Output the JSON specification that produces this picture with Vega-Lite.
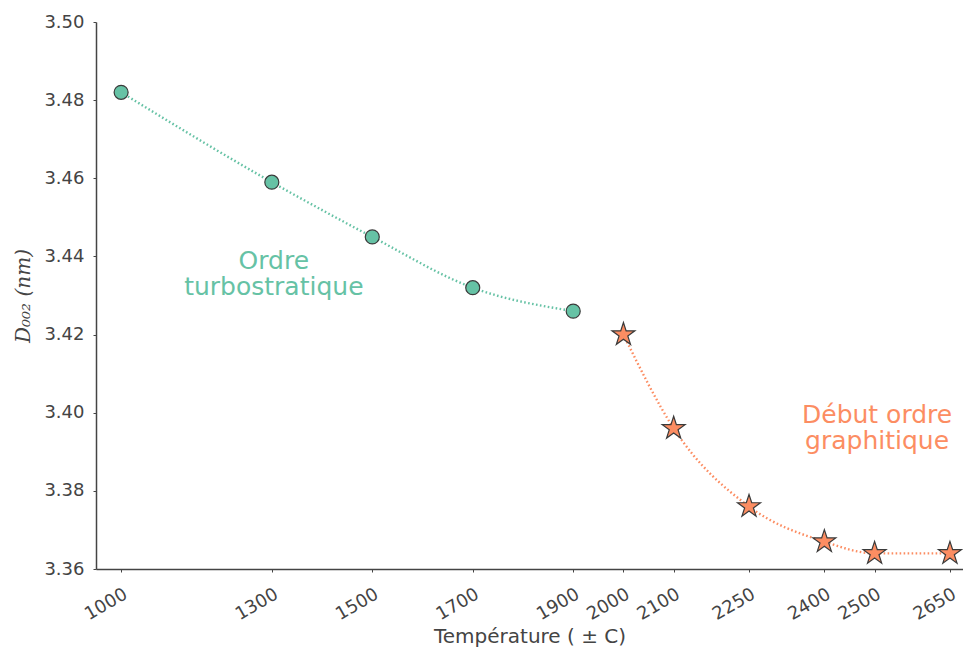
{
  "$schema": "https://vega.github.io/schema/vega-lite/v6.json",
  "width": 867,
  "height": 547,
  "autosize": {"type": "none"},
  "padding": {"left": 96, "top": 22, "right": 0, "bottom": 80},
  "background": "white",
  "config": {"view": {"stroke": null}, "font": "DejaVu Sans"},
  "data": {
    "values": [
      {"temp": 1000, "d": 3.482, "phase": "turbo"},
      {"temp": 1300, "d": 3.459, "phase": "turbo"},
      {"temp": 1500, "d": 3.445, "phase": "turbo"},
      {"temp": 1700, "d": 3.432, "phase": "turbo"},
      {"temp": 1900, "d": 3.426, "phase": "turbo"},
      {"temp": 2000, "d": 3.420, "phase": "graph"},
      {"temp": 2100, "d": 3.396, "phase": "graph"},
      {"temp": 2250, "d": 3.376, "phase": "graph"},
      {"temp": 2400, "d": 3.367, "phase": "graph"},
      {"temp": 2500, "d": 3.364, "phase": "graph"},
      {"temp": 2650, "d": 3.364, "phase": "graph"}
    ]
  },
  "layer": [
    {
      "mark": {"type": "line", "interpolate": "monotone", "strokeWidth": 2.4, "strokeDash": [1.6, 2.4]},
      "encoding": {
        "x": {
          "field": "temp", "type": "quantitative",
          "scale": {"domain": [950, 2676], "nice": false, "zero": false},
          "axis": {
            "values": [1000, 1300, 1500, 1700, 1900, 2000, 2100, 2250, 2400, 2500, 2650],
            "format": "d",
            "labelAngle": -30,
            "labelAlign": "right",
            "labelBaseline": "top",
            "labelFont": "DejaVu Sans",
            "labelFontSize": 18,
            "labelColor": "#444444",
            "labelPadding": 13,
            "labelOverlap": false,
            "grid": false,
            "domainColor": "#444444",
            "domainWidth": 1.5,
            "tickColor": "#444444",
            "tickSize": 3,
            "title": "Température ( ± C)",
            "titleFont": "DejaVu Sans",
            "titleFontSize": 20,
            "titleFontWeight": "normal",
            "titleColor": "#444444",
            "titlePadding": 3
          }
        },
        "y": {
          "field": "d", "type": "quantitative",
          "scale": {"domain": [3.36, 3.5], "nice": false, "zero": false},
          "axis": {
            "values": [3.36, 3.38, 3.40, 3.42, 3.44, 3.46, 3.48, 3.50],
            "format": ".2f",
            "labelFont": "DejaVu Sans",
            "labelFontSize": 18,
            "labelColor": "#444444",
            "labelPadding": 9,
            "grid": false,
            "domainColor": "#444444",
            "domainWidth": 1.5,
            "tickColor": "#444444",
            "tickSize": 3,
            "title": "D₀₀₂ (nm)",
            "titleFont": "DejaVu Serif",
            "titleFontStyle": "italic",
            "titleFontSize": 20,
            "titleFontWeight": "normal",
            "titleColor": "#444444",
            "titlePadding": 10
          }
        },
        "color": {"field": "phase", "type": "nominal", "scale": {"domain": ["turbo", "graph"], "range": ["#66c2a5", "#fc8d62"]}, "legend": null}
      }
    },
    {
      "transform": [{"filter": "datum.phase === 'turbo'"}],
      "mark": {"type": "point", "shape": "circle", "filled": true, "opacity": 1, "stroke": "#3a3a3a", "strokeWidth": 1.2, "size": 196},
      "encoding": {
        "x": {"field": "temp", "type": "quantitative"},
        "y": {"field": "d", "type": "quantitative"},
        "color": {"field": "phase", "type": "nominal", "legend": null}
      }
    },
    {
      "transform": [{"filter": "datum.phase === 'graph'"}],
      "mark": {"type": "point", "shape": "M0,-1L0.2245,-0.309L0.9511,-0.309L0.3633,0.118L0.5878,0.809L0,0.382L-0.5878,0.809L-0.3633,0.118L-0.9511,-0.309L-0.2245,-0.309Z", "filled": true, "opacity": 1, "stroke": "#3a3a3a", "strokeWidth": 1.2, "size": 580},
      "encoding": {
        "x": {"field": "temp", "type": "quantitative"},
        "y": {"field": "d", "type": "quantitative"},
        "color": {"field": "phase", "type": "nominal", "legend": null}
      }
    },
    {
      "data": {
        "values": [
          {"temp": 1304, "d": 3.4368, "phase": "turbo", "txt": ["Ordre", "turbostratique"]},
          {"temp": 2505, "d": 3.3974, "phase": "graph", "txt": ["Début ordre", "graphitique"]}
        ]
      },
      "mark": {"type": "text", "font": "DejaVu Sans", "fontSize": 25, "lineHeight": 26.5, "align": "center", "baseline": "alphabetic"},
      "encoding": {
        "x": {"field": "temp", "type": "quantitative"},
        "y": {"field": "d", "type": "quantitative"},
        "color": {"field": "phase", "type": "nominal", "legend": null},
        "text": {"field": "txt"}
      }
    }
  ]
}
